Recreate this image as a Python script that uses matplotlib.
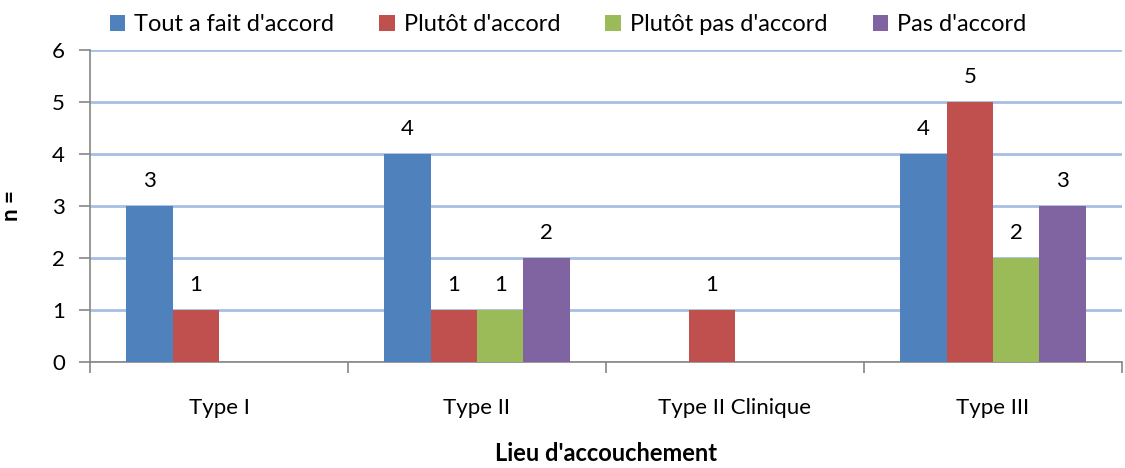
import matplotlib
matplotlib.use("Agg")
import matplotlib.pyplot as plt
import numpy as np

categories = ["Type I", "Type II", "Type II Clinique", "Type III"]
series_names = ["Tout a fait d'accord", "Plutôt d'accord", "Plutôt pas d'accord", "Pas d'accord"]
tout_a_fait = [3, 4, 0, 4]
plutot = [1, 1, 1, 5]
plutot_pas = [0, 1, 0, 2]
pas = [0, 2, 0, 3]
colors = ["#4F81BD", "#C0504D", "#9BBB59", "#8064A2"]

plt.rcParams['font.family'] = ['Lato', 'DejaVu Sans']

fig = plt.figure(figsize=(11.25, 4.68), dpi=100)
ax = fig.add_axes([0.08, 0.2265, 0.9173, 0.6667])

values = [tout_a_fait, plutot, plutot_pas, pas]
x = np.arange(len(categories))
w = 0.18
for i, (vals, name, c) in enumerate(zip(values, series_names, colors)):
    pos = x + (i - 1.5) * w
    ax.bar(pos, vals, width=w, color=c, label=name, zorder=3, edgecolor='none')
    for p, v in zip(pos, vals):
        if v > 0:
            ax.text(p, v + 0.48, str(v), ha='center', va='center', fontsize=16, color='black')

ax.set_xlim(-0.5, len(categories) - 0.5)
ax.set_ylim(0, 6)
ax.set_yticks(range(0, 7))
ax.yaxis.grid(True, color='#a7bfe3', linewidth=2, zorder=0)
ax.set_axisbelow(True)

ax.set_xticks(x)
ax.set_xticklabels(categories, fontsize=16)
ax.set_xticks(np.arange(-0.5, len(categories)), minor=True)
ax.tick_params(axis='x', which='major', length=0, pad=26)
ax.tick_params(axis='x', which='minor', length=8, color='#868686', width=1.2, direction='out')
ax.tick_params(axis='y', length=8, color='#868686', width=1.2, labelsize=16, pad=10)

for s in ['top', 'right']:
    ax.spines[s].set_visible(False)
for s in ['left', 'bottom']:
    ax.spines[s].set_color('#868686')
    ax.spines[s].set_linewidth(1.2)

ax.set_ylabel("n =", fontsize=16, fontweight='bold')
ax.yaxis.set_label_coords(-0.066, 0.5)
ax.set_xlabel("Lieu d'accouchement", fontsize=17, fontweight='bold', labelpad=17)

leg = fig.legend(loc='upper center', bbox_to_anchor=(0.505, 1.015), ncol=4, frameon=False,
                 fontsize=17, handlelength=0.65, handleheight=0.65, handletextpad=0.4,
                 columnspacing=1.9)

fig.savefig("out.png", dpi=100)
